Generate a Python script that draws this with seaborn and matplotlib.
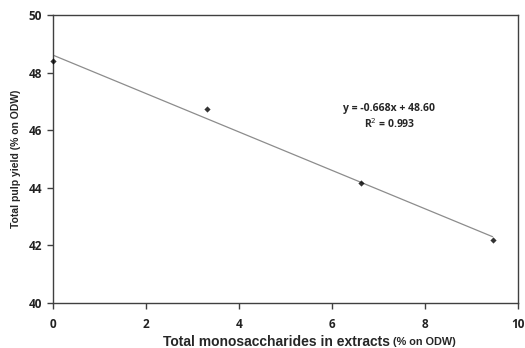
import numpy as np
import pandas as pd
import seaborn as sns
import matplotlib.pyplot as plt

monosaccharides = [0.0, 3.31, 6.62, 9.45]
pulp_yield = [48.40, 46.72, 44.18, 42.20]
x_ticks = [0, 2, 4, 6, 8, 10]
y_ticks = [40, 42, 44, 46, 48, 50]
equation = "y = -0.668x + 48.60"
r_squared = "R$^2$ = 0.993"


def main():
    df = pd.DataFrame({"x": monosaccharides, "y": pulp_yield})

    sns.set_theme(style="ticks")
    plt.rcParams['font.family'] = ['Open Sans', 'DejaVu Sans']

    fig = plt.figure(figsize=(5.25, 3.48), dpi=100)
    ax = fig.add_axes([0.101, 0.129, 0.886, 0.828])

    sns.regplot(
        data=df, x="x", y="y", ax=ax, ci=None, truncate=True, marker="D",
        scatter_kws=dict(s=10, color="black", zorder=3, clip_on=False, linewidths=0),
        line_kws=dict(color="#8c8c8c", linewidth=0.9),
    )

    ax.set_xlim(0, 10)
    ax.set_ylim(40, 50)
    ax.set_xticks(x_ticks)
    ax.set_yticks(y_ticks)
    ax.tick_params(direction="out", length=4, width=1, color="#404040",
                   bottom=True, left=True, top=False, right=False,
                   labelsize=8.5, pad=4, labelcolor="#222222")
    for lbl in ax.get_xticklabels() + ax.get_yticklabels():
        lbl.set_fontweight("bold")
    ax.tick_params(axis="x", pad=7)
    for sp in ax.spines.values():
        sp.set_visible(True)
        sp.set_color("#404040")
        sp.set_linewidth(1.0)

    ax.set_ylabel("Total pulp yield (% on ODW)", fontsize=7.5, fontweight="bold",
                  family="Liberation Sans", labelpad=5)
    ax.set_xlabel("")
    fig.text(0.743, 0.018, "Total monosaccharides in extracts", fontsize=10,
             fontweight="bold", family="Liberation Sans", ha="right", va="center")
    fig.text(0.748, 0.018, "(% on ODW)", fontsize=7.8, fontweight="bold",
             family="Liberation Sans", ha="left", va="center")

    ax.text(7.23, 46.74, equation, fontsize=7.5, fontweight="bold", ha="center", va="center")
    ax.text(7.23, 46.22, r_squared, fontsize=7.5, fontweight="bold", ha="center", va="center")

    fig.savefig("out.png", dpi=100)
    plt.close(fig)


if __name__ == "__main__":
    main()
